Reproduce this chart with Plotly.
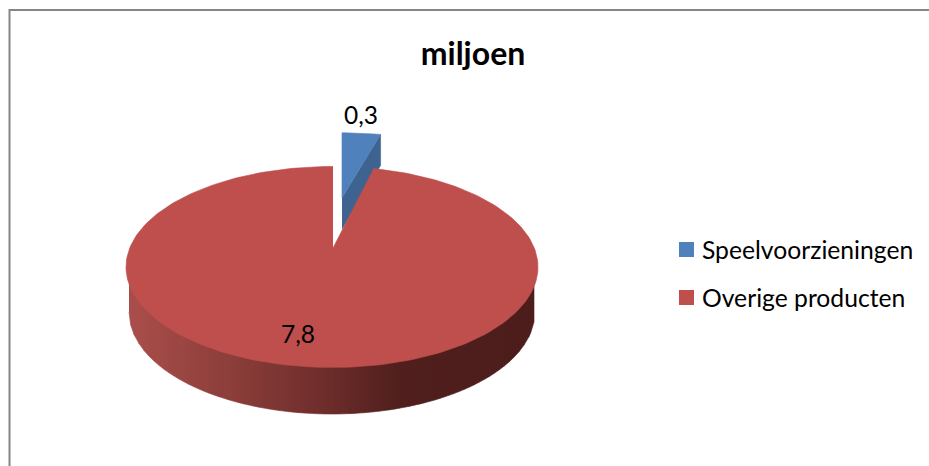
import numpy as np
import plotly.graph_objects as go

# Data
categories = ["Speelvoorzieningen", "Overige producten"]
values = [0.3, 7.8]
chart_title = "miljoen"

# Styling and projection of the pseudo-3D pie
FONT = "Lato"
COL_TOP = ["#4F81BD", "#BE4F4C"]
COL_CUT_BLUE = "#3E6390"
FRAME = "#868686"
W, H = 929, 466

# red slice: apex, top ellipse, bottom ellipse
APEX = (333.0, 248.0)
TOP = dict(cx=332.0, cy=267.0, rx=206.0, ry=100.5)
BOT = dict(cx=332.0, cy=312.0, rx=203.0, ry=102.0)
DIR_Y = 95.0  # foreshortening of slice directions from the apex

# blue exploded slice
B_APEX = (342.0, 198.0)
B_SX, B_SY = 0.945, 0.80
B_DEPTH = 31.0

# legend placement
LEG_X = 686.5
LEG_TEXT_X = 701
LEG_Y = [249.5, 297.5]

total = sum(values)
sweep = [v / total * 2 * np.pi for v in values]


def rim_point(theta):
    """Where the ray from the apex at pie angle theta (clockwise from 12 o'clock) meets the top ellipse."""
    dx, dy = np.sin(theta) * TOP["rx"], -np.cos(theta) * DIR_Y
    ox, oy = (APEX[0] - TOP["cx"]) / TOP["rx"], (APEX[1] - TOP["cy"]) / TOP["ry"]
    ux, uy = dx / TOP["rx"], dy / TOP["ry"]
    a, b, c = ux**2 + uy**2, 2 * (ox * ux + oy * uy), ox**2 + oy**2 - 1
    t = (-b + np.sqrt(b * b - 4 * a * c)) / (2 * a)
    return APEX[0] + t * dx, APEX[1] + t * dy


def lerp_colour(x):
    stops_x = [128, 230, 330, 400, 540]
    r = np.interp(x, stops_x, [170, 140, 108, 80, 76])
    g = np.interp(x, stops_x, [78, 62, 44, 31, 29])
    b = np.interp(x, stops_x, [75, 58, 42, 29, 27])
    return f"rgb({r:.0f},{g:.0f},{b:.0f})"


fig = go.Figure()


def poly(xs, ys, colour):
    fig.add_trace(go.Scatter(
        x=list(xs), y=list(ys), mode="lines", fill="toself", fillcolor=colour,
        line=dict(color=colour, width=0.6), hoverinfo="skip", showlegend=False))


# ---- blue slice (exploded, behind the red one)
b_angles = np.linspace(0, sweep[0], 12)
b_rim = [rim_point(a) for a in b_angles]
b_x = [B_APEX[0] + (p[0] - APEX[0]) * B_SX for p in b_rim]
b_y = [B_APEX[1] + (p[1] - APEX[1]) * B_SY for p in b_rim]
# outer wall + cut face
poly([B_APEX[0], b_x[-1], b_x[-1], B_APEX[0]],
     [B_APEX[1], b_y[-1], b_y[-1] + B_DEPTH, B_APEX[1] + B_DEPTH], COL_CUT_BLUE)
poly([B_APEX[0]] + b_x, [B_APEX[1]] + b_y, COL_TOP[0])


# ---- red side wall: vertical strips following the two ellipses
def low(x):
    return BOT["cy"] + BOT["ry"] * np.sqrt(np.clip(1 - ((x - BOT["cx"]) / BOT["rx"]) ** 2, 0, 1))


def high(x):
    return TOP["cy"] + TOP["ry"] * np.sqrt(np.clip(1 - ((x - TOP["cx"]) / TOP["rx"]) ** 2, 0, 1)) - 3


edges = np.arange(TOP["cx"] - BOT["rx"], TOP["cx"] + BOT["rx"] + 1e-6, 5.0)
for x0, x1 in zip(edges[:-1], edges[1:]):
    xs = np.linspace(x0, x1, 4)
    poly(list(xs) + list(xs[::-1]), list(high(xs)) + list(low(xs[::-1])), lerp_colour((x0 + x1) / 2))

# ---- red top face
r_angles = np.linspace(sweep[0], 2 * np.pi, 240)
r_rim = [rim_point(a) for a in r_angles]
poly([APEX[0]] + [p[0] for p in r_rim], [APEX[1]] + [p[1] for p in r_rim], COL_TOP[1])

# ---- legend swatches
for name, colour, ly in zip(categories, COL_TOP, LEG_Y):
    fig.add_trace(go.Scatter(
        x=[LEG_X], y=[ly], mode="markers", name=name, showlegend=False, hoverinfo="name",
        marker=dict(symbol="square", size=15, color=colour, line=dict(width=0))))


def label(v):
    return f"{v}".replace(".", ",")


annotations = [
    dict(x=361, y=114, text=label(values[0]), font=dict(family=FONT, size=24.5, color="black")),
    dict(x=298, y=333, text=label(values[1]), font=dict(family=FONT, size=24.5, color="black")),
]
for name, ly in zip(categories, LEG_Y):
    annotations.append(dict(x=LEG_TEXT_X, y=ly, text=name, xanchor="left", xshift=0,
                            font=dict(family=FONT, size=24.7, color="black")))

fig.update_layout(
    width=W, height=H,
    margin=dict(l=0, r=0, t=0, b=0),
    paper_bgcolor="white", plot_bgcolor="white",
    font=dict(family=FONT, size=24, color="black"),
    title=dict(text=f"<b>{chart_title}</b>", x=473 / W, y=1 - 54 / H,
               xanchor="center", yanchor="middle", font=dict(family=FONT, size=32, color="black")),
    xaxis=dict(range=[0, W], visible=False, fixedrange=True),
    yaxis=dict(range=[H, 0], visible=False, fixedrange=True),
    showlegend=False,
    annotations=[dict(a, xref="x", yref="y", showarrow=False, borderpad=0) for a in annotations],
    shapes=[dict(type="rect", xref="x", yref="y", x0=9.5, y0=10, x1=940, y1=480,
                 line=dict(color=FRAME, width=2), fillcolor="rgba(0,0,0,0)", layer="below")],
)
fig.write_html(
    "out.html",
    config=dict(displayModeBar=False),
    post_script="document.body.style.margin='0';document.documentElement.style.overflow='hidden';",
)
